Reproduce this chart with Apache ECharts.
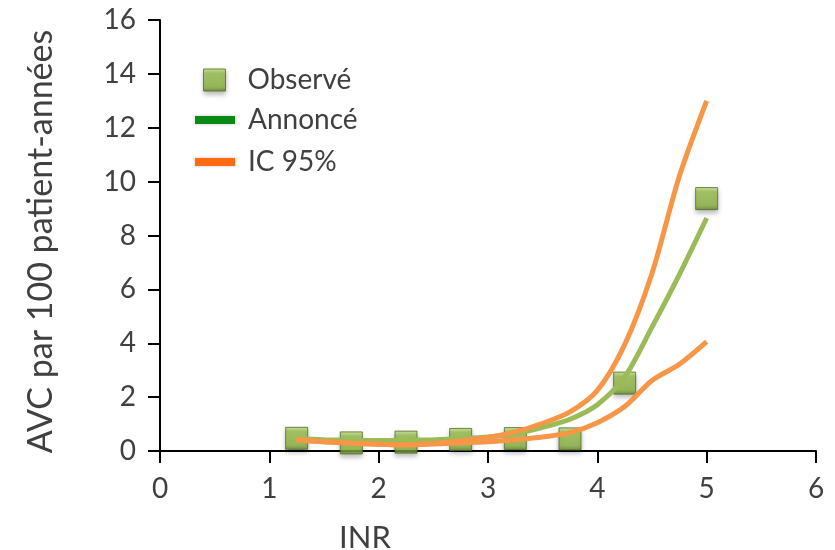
<!DOCTYPE html>
<html>
<head>
<meta charset="utf-8">
<title>AVC / INR</title>
<script src="https://cdn.jsdelivr.net/npm/echarts@6/dist/echarts.min.js"></script>
<style>
    html, body { margin: 0; padding: 0; background: #fff; }
    #chart { width: 835px; height: 550px; }
</style>
</head>
<body>
<div id="chart"></div>
<script>
// INR des courbes
var inr = [1.25, 1.5, 1.75, 2, 2.25, 2.5, 2.75, 3, 3.25, 3.5, 3.75, 4, 4.25, 4.5, 4.75, 5];
// points observés
var obsInr = [1.25, 1.75, 2.25, 2.75, 3.25, 3.75, 4.25, 5];
var observe = [0.47, 0.3, 0.33, 0.43, 0.46, 0.45, 2.52, 9.37];
// courbe annoncée
var annonce = [0.45, 0.42, 0.4, 0.39, 0.4, 0.42, 0.46, 0.52, 0.64, 0.88, 1.18, 1.72, 2.75, 4.6, 6.55, 8.65];
// intervalle de confiance 95%
var icHaut = [0.42, 0.34, 0.29, 0.25, 0.23, 0.28, 0.38, 0.5, 0.71, 1.03, 1.45, 2.25, 3.95, 6.6, 10.2, 13.0];
var icBas = [0.41, 0.34, 0.29, 0.25, 0.23, 0.26, 0.3, 0.34, 0.42, 0.52, 0.68, 1.05, 1.65, 2.62, 3.22, 4.06];

function pairs(xs, ys) {
    var out = [];
    for (var i = 0; i < xs.length; i++) out.push([xs[i], ys[i]]);
    return out;
}

var font = 'Lato';
var textColor = '#404040';

// carré vert biseauté
var squareStyle = {
    color: new echarts.graphic.LinearGradient(0, 0, 0, 1, [
        { offset: 0, color: '#c4e384' },
        { offset: 0.2, color: '#9cc24f' },
        { offset: 0.8, color: '#8ab43f' },
        { offset: 1, color: '#62802a' }
    ]),
    borderColor: '#4f6a22',
    borderWidth: 1,
    shadowBlur: 5,
    shadowOffsetY: 3,
    shadowColor: 'rgba(0,0,0,0.35)'
};

function legendBox(name, left, top, w, h, padLeft, style) {
    return {
        data: [{ name: name, icon: 'rect', itemStyle: style }],
        left: left,
        top: top,
        orient: 'vertical',
        itemWidth: w,
        itemHeight: h,
        selectedMode: false,
        textStyle: {
            fontFamily: font,
            fontSize: 28,
            color: textColor,
            lineHeight: 30,
            padding: [0, 0, 34, padLeft]
        }
    };
}

var option = {
    animation: false,
    grid: { left: 160, right: 19, top: 20, bottom: 99, outerBoundsMode: 'none' },
    legend: [
        legendBox('Observé', 198, 43, 22, 22, 17, squareStyle),
        legendBox('Annoncé', 190, 83, 40, 8, 8, { color: '#0a8a12', shadowBlur: 3, shadowColor: 'rgba(0,0,0,0.25)' }),
        legendBox('IC 95%', 190, 125, 40, 8, 8, { color: '#ff6a12', shadowBlur: 3, shadowColor: 'rgba(0,0,0,0.25)' })
    ],
    xAxis: {
        type: 'value',
        min: 0,
        max: 6,
        interval: 1,
        name: 'INR',
        nameLocation: 'middle',
        nameGap: 71,
        nameTextStyle: { fontFamily: font, fontSize: 31, color: textColor, padding: [0, 246, 0, 0] },
        axisLine: { lineStyle: { color: '#000', width: 2 } },
        axisTick: { show: true, length: 12, lineStyle: { color: '#000', width: 2 } },
        axisLabel: { fontFamily: font, fontSize: 28, color: textColor, margin: 24 },
        splitLine: { show: false }
    },
    yAxis: {
        type: 'value',
        min: 0,
        max: 16,
        interval: 2,
        name: 'AVC par 100 patient-années',
        nameLocation: 'middle',
        nameGap: 102,
        nameTextStyle: { fontFamily: font, fontSize: 34, color: textColor, padding: [0, 12, 0, 0] },
        axisLine: { show: true, lineStyle: { color: '#000', width: 2 } },
        axisTick: { show: true, length: 12, lineStyle: { color: '#000', width: 2 } },
        axisLabel: { fontFamily: font, fontSize: 28, color: textColor, margin: 24 },
        splitLine: { show: false }
    },
    series: [
        {
            name: 'Observé',
            type: 'scatter',
            symbol: 'rect',
            symbolSize: 22,
            z: 1,
            itemStyle: squareStyle,
            data: pairs(obsInr, observe)
        },
        {
            name: 'Annoncé',
            type: 'line',
            smooth: 0.3,
            showSymbol: false,
            z: 3,
            lineStyle: { color: '#9bbb59', width: 5 },
            itemStyle: { color: '#9bbb59' },
            data: pairs(inr, annonce)
        },
        {
            name: 'IC 95%',
            type: 'line',
            smooth: 0.3,
            showSymbol: false,
            z: 4,
            lineStyle: { color: '#f79646', width: 5 },
            itemStyle: { color: '#f79646' },
            data: pairs(inr, icHaut)
        },
        {
            name: 'IC 95%',
            type: 'line',
            smooth: 0.3,
            showSymbol: false,
            z: 4,
            lineStyle: { color: '#f79646', width: 5 },
            itemStyle: { color: '#f79646' },
            data: pairs(inr, icBas)
        }
    ]
};

var myChart = echarts.init(document.getElementById('chart'));
myChart.setOption(option);
</script>
</body>
</html>
